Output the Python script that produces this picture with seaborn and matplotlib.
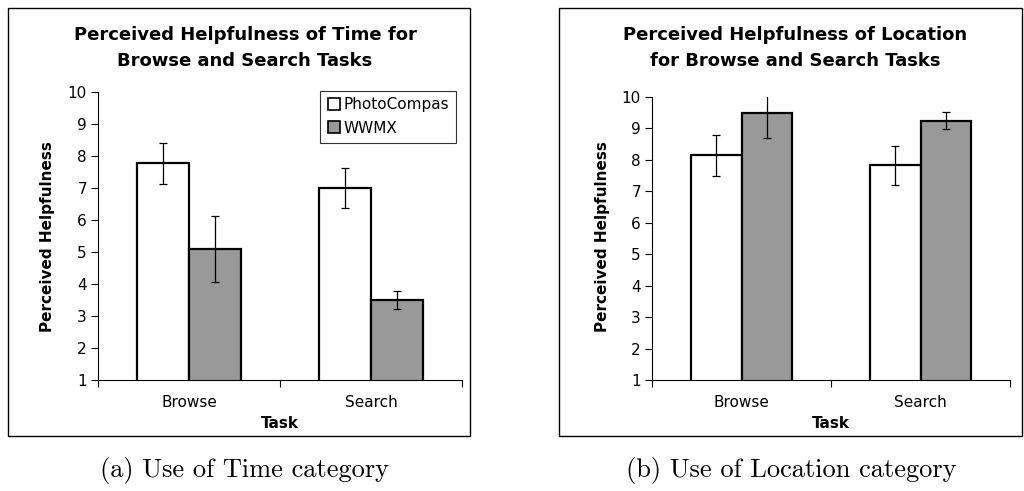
import numpy as np
import pandas as pd
import matplotlib
matplotlib.use("Agg")
import matplotlib.pyplot as plt
import seaborn as sns
from matplotlib.patches import Rectangle
from matplotlib.lines import Line2D

tasks = ["Browse", "Search"]
systems = ["PhotoCompas", "WWMX"]

time_photocompas = [7.78, 7.0]
time_wwmx = [5.1, 3.5]
time_photocompas_err = [0.64, 0.63]
time_wwmx_err = [1.03, 0.28]

loc_photocompas = [8.15, 7.83]
loc_wwmx = [9.49, 9.24]
loc_photocompas_err = [0.65, 0.62]
loc_wwmx_err = [0.8, 0.27]

titles = ["Perceived Helpfulness of Time for\nBrowse and Search Tasks",
          "Perceived Helpfulness of Location\nfor Browse and Search Tasks"]
captions = ["(a) Use of Time category", "(b) Use of Location category"]
yticks = list(range(1, 11))

sns.set_theme(style="white")
plt.rcParams['font.family'] = ['DejaVu Sans']
plt.rcParams['text.color'] = 'black'
plt.rcParams['xtick.color'] = 'black'
plt.rcParams['ytick.color'] = 'black'
plt.rcParams['axes.labelcolor'] = 'black'

fig = plt.figure(figsize=(10.24, 4.91), dpi=100)
ax_pos = [[98/1024, 1-380/491, 364/1024, 288/491],
          [652/1024, 1-380/491, 358/1024, 283/491]]
boxes = [(8, 8, 470, 436), (559, 8, 1022, 436)]
title_x = [245, 795]
caption_x = [244, 791]

datasets = [(time_photocompas, time_wwmx, time_photocompas_err, time_wwmx_err),
            (loc_photocompas, loc_wwmx, loc_photocompas_err, loc_wwmx_err)]
palette = {"PhotoCompas": "white", "WWMX": "#999999"}

for i, (pc, ww, pce, wwe) in enumerate(datasets):
    x0, y0, x1, y1 = boxes[i]
    fig.patches.append(Rectangle((x0/1024, 1-y1/491), (x1-x0)/1024, (y1-y0)/491,
                                 transform=fig.transFigure, fill=False,
                                 edgecolor="black", linewidth=1.0))
    df = pd.DataFrame({
        "Task": tasks * 2,
        "System": [systems[0]]*2 + [systems[1]]*2,
        "Value": pc + ww,
        "Err": pce + wwe,
    })
    ax = fig.add_axes(ax_pos[i])
    sns.barplot(data=df, x="Task", y="Value", hue="System", hue_order=systems,
                order=tasks, palette=palette, edgecolor="black", linewidth=1.6,
                width=0.566, errorbar=None, ax=ax, legend=False, saturation=1)
    for patch, (_, row) in zip(ax.patches, df.iterrows()):
        cx = patch.get_x() + patch.get_width()/2
        ax.errorbar(cx, row["Value"], yerr=row["Err"], fmt="none",
                    ecolor="black", elinewidth=0.9, capsize=3, capthick=0.9)
    ax.set_ylim(1, 10)
    ax.set_xlim(-0.5, 1.5)
    ax.set_yticks(yticks)
    ax.set_yticklabels([str(t) for t in yticks], fontsize=11)
    ax.set_xticks([0, 1])
    ax.set_xticklabels(tasks, fontsize=11)
    ax.set_xticks([-0.5, 0.5, 1.5], minor=True)
    ax.tick_params(axis="x", which="major", length=0, pad=11)
    ax.tick_params(axis="x", which="minor", length=5, width=0.8, color="black", direction="out", bottom=True)
    ax.tick_params(axis="y", which="major", length=5, width=0.8, color="black", direction="out", left=True, pad=3)
    for s in ["top", "right"]:
        ax.spines[s].set_visible(False)
    for s in ["left", "bottom"]:
        ax.spines[s].set_color("black")
        ax.spines[s].set_linewidth(0.8)
    ax.set_xlabel("")
    ax.set_ylabel("")
    fig.text((ax_pos[i][0]*1024 + ax_pos[i][2]*1024/2)/1024, 1-423/491, "Task",
             fontsize=11, fontweight="bold", ha="center", va="center")
    fig.text((48 if i == 0 else 603)/1024, 1-237/491, "Perceived Helpfulness",
             fontsize=11, fontweight="bold", rotation=90, ha="center", va="center")
    fig.text(title_x[i]/1024, 1-48/491, titles[i], fontsize=13, fontweight="bold",
             ha="center", va="center", linespacing=1.6)
    fig.text(caption_x[i]/1024, 1-471/491, captions[i], fontsize=19,
             family="cmr10", ha="center", va="center")
    if i == 0:
        handles = [Line2D([], [], marker="s", linestyle="none", markersize=9,
                          markerfacecolor=palette[s], markeredgecolor="black",
                          markeredgewidth=1.2) for s in systems]
        leg = ax.legend(handles, systems, loc="upper right",
                        bbox_to_anchor=(358/364, 1.005), fontsize=11,
                        frameon=True, fancybox=False, edgecolor="black",
                        handletextpad=0.1, borderpad=0.45, labelspacing=0.55,
                        handlelength=1.0, borderaxespad=0)
        leg.get_frame().set_linewidth(0.8)

fig.savefig("out.png", dpi=100)
